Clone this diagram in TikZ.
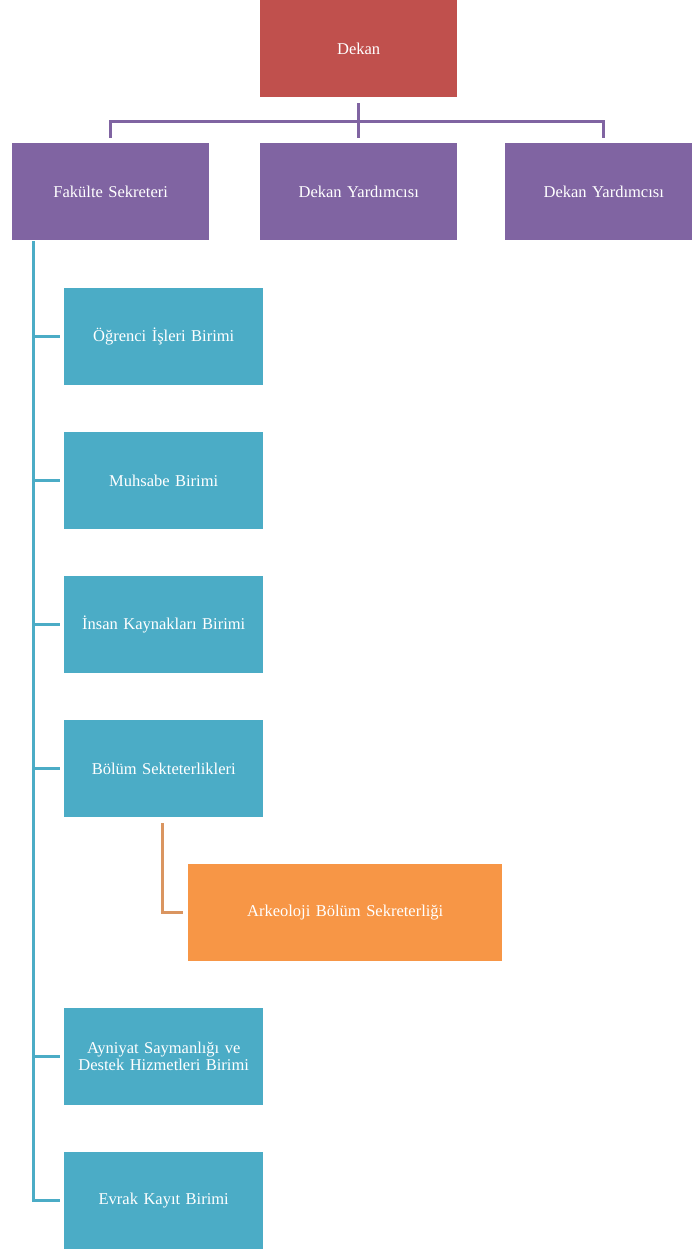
\documentclass[tikz,border=0pt]{standalone}
\usepackage{fontspec}
\setmainfont{Liberation Serif}
\definecolor{cred}{HTML}{C0504D}
\definecolor{cpurple}{HTML}{8064A2}
\definecolor{cteal}{HTML}{4BACC6}
\definecolor{corange}{HTML}{F79646}
\definecolor{corline}{HTML}{DA9560}
\begin{document}
\begin{tikzpicture}[x=1pt,y=-1pt,
  box/.style={rectangle,anchor=north west,inner sep=2pt,minimum height=97pt,align=center,text=white,font=\fontsize{16.5}{17}\selectfont},
  redbox/.style={box,fill=cred,minimum width=197pt,text width=190pt},
  purpbox/.style={box,fill=cpurple,minimum width=197pt,text width=190pt},
  tealbox/.style={box,fill=cteal,minimum width=199pt,text width=194pt},
  orbox/.style={box,fill=corange,minimum width=314pt,text width=306pt},
  pline/.style={draw=cpurple,line width=3pt},
  tline/.style={draw=cteal,line width=3pt},
  oline/.style={draw=corline,line width=3pt}]
\useasboundingbox (0,0) rectangle (692,1251);
\node[redbox] (dekan) at (260,0) {Dekan};
\node[purpbox] (fs) at (12,143) {Fakülte Sekreteri};
\node[purpbox] (dy1) at (260,143) {Dekan Yardımcısı};
\node[purpbox] (dy2) at (505,143) {Dekan Yardımcısı};
\node[tealbox] (og) at (64,288) {Öğrenci İşleri Birimi};
\node[tealbox] (mu) at (64,432) {Muhsabe Birimi};
\node[tealbox] (ik) at (64,576) {İnsan Kaynakları Birimi};
\node[tealbox] (bs) at (64,720) {Bölüm Sekteterlikleri};
\node[orbox] (ark) at (188,864) {Arkeoloji Bölüm Sekreterliği};
\node[tealbox] (ay) at (64,1008) {Ayniyat Saymanlığı ve\\Destek Hizmetleri Birimi};
\node[tealbox] (ev) at (64,1152) {Evrak Kayıt Birimi};
% purple connectors
\draw[pline] ([yshift=-6pt]dekan.south) -- ([yshift=5pt]dy1.north);
\draw[pline] ([yshift=5pt]fs.north) -- ([yshift=22pt]fs.north) -| ([yshift=5pt]dy2.north);
% teal connectors
\coordinate (spine) at ([xshift=21pt,yshift=-1pt]fs.south west);
\draw[tline] (spine) |- ([xshift=-4pt]ev.west);
\foreach \n in {og,mu,ik,bs,ay}{
  \draw[tline] (spine |- \n.west) -- ([xshift=-4pt]\n.west);
}
% orange connector
\draw[oline] ([xshift=98pt,yshift=-6pt]bs.south west) |- ([xshift=-5pt]ark.west);
\end{tikzpicture}
\end{document}
